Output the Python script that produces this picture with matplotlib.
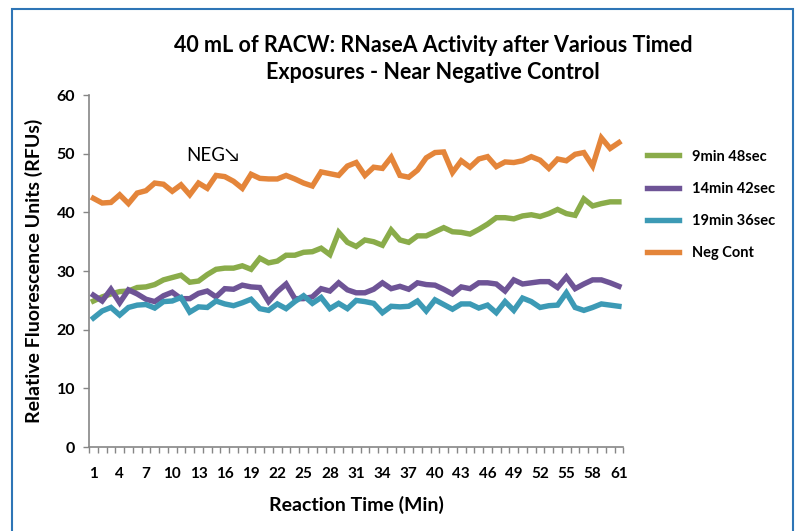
import numpy as np
import matplotlib.pyplot as plt
from matplotlib.patches import Rectangle

plt.rcParams['font.family'] = ['Lato', 'DejaVu Sans']

minutes = np.arange(1, 62)

min9_48 = [24.9, 25.6, 26.1, 26.5, 26.6, 27.2, 27.3, 27.7, 28.5, 28.9,
           29.3, 28.1, 28.3, 29.4, 30.3, 30.5, 30.5, 30.9, 30.3, 32.2,
           31.4, 31.7, 32.7, 32.7, 33.2, 33.3, 33.9, 32.8, 36.6, 34.9,
           34.2, 35.3, 35.0, 34.4, 37.0, 35.3, 34.9, 36.0, 36.0, 36.7,
           37.4, 36.7, 36.6, 36.3, 37.1, 38.0, 39.1, 39.1, 38.9, 39.4,
           39.6, 39.3, 39.8, 40.5, 39.8, 39.5, 42.3, 41.1, 41.5, 41.8, 41.8]

min14_42 = [25.9, 24.9, 26.9, 24.6, 26.8, 26.1, 25.2, 24.8, 25.8, 26.4,
            25.3, 25.3, 26.2, 26.6, 25.6, 27.0, 26.9, 27.6, 27.3, 27.2,
            24.8, 26.5, 27.8, 25.3, 25.3, 25.6, 27.0, 26.6, 28.0, 26.8,
            26.3, 26.3, 26.9, 28.0, 27.0, 27.4, 26.9, 28.0, 27.7, 27.6,
            26.9, 26.1, 27.3, 27.0, 28.0, 28.0, 27.8, 26.6, 28.5, 27.8,
            28.0, 28.2, 28.2, 27.2, 29.0, 27.0, 27.8, 28.5, 28.5, 28.0, 27.4]

min19_36 = [22.0, 23.2, 23.8, 22.5, 23.8, 24.2, 24.3, 23.7, 24.8, 24.9,
            25.5, 23.0, 23.9, 23.8, 24.9, 24.4, 24.1, 24.6, 25.2, 23.6,
            23.3, 24.4, 23.6, 24.8, 25.8, 24.5, 25.5, 23.6, 24.5, 23.6,
            25.0, 24.8, 24.5, 22.9, 24.0, 23.9, 24.0, 24.9, 23.2, 25.1,
            24.3, 23.5, 24.4, 24.4, 23.7, 24.2, 22.9, 24.8, 23.3, 25.4,
            24.8, 23.8, 24.1, 24.2, 26.3, 23.8, 23.3, 23.8, 24.4, 24.2, 24.0]

neg_cont = [42.4, 41.6, 41.7, 43.0, 41.5, 43.3, 43.7, 45.0, 44.8, 43.6,
            44.7, 43.0, 45.0, 44.1, 46.3, 46.1, 45.3, 44.1, 46.5, 45.8,
            45.7, 45.7, 46.3, 45.7, 45.0, 44.5, 46.9, 46.6, 46.3, 47.9,
            48.5, 46.3, 47.7, 47.5, 49.4, 46.3, 46.0, 47.2, 49.3, 50.2,
            50.3, 46.8, 48.8, 47.7, 49.1, 49.5, 47.8, 48.6, 48.5, 48.8,
            49.5, 48.9, 47.5, 49.1, 48.8, 49.9, 50.2, 47.9, 52.7, 50.9, 51.9]

series_names = ['9min 48sec', '14min 42sec', '19min 36sec', 'Neg Cont']
colors = ['#8aac4a', '#6e5496', '#3c9ab5', '#e4853a']

fig = plt.figure(figsize=(7.95, 5.31), dpi=100)
ax = fig.add_axes([0.112, 0.158, 0.672, 0.663])

for vals, name, c in zip([min9_48, min14_42, min19_36, neg_cont], series_names, colors):
    ax.plot(minutes, vals, color=c, lw=3.9, label=name, solid_joinstyle='miter')

ax.set_xlim(0.5, 61.5)
ax.set_ylim(0, 60)
ax.set_yticks(range(0, 61, 10))
ax.set_xticks(range(1, 62, 3))
ax.set_xticks(np.arange(0.5, 62, 1), minor=True)
ax.tick_params(axis='x', which='major', length=0, pad=14, labelsize=11)
ax.tick_params(axis='x', which='minor', length=4, width=1, color='#868686', direction='out')
ax.tick_params(axis='y', length=4, width=1, color='#868686', labelsize=11.5, pad=6)
for lab in ax.get_xticklabels() + ax.get_yticklabels():
    lab.set_fontweight('bold')

for s in ['top', 'right']:
    ax.spines[s].set_visible(False)
for s in ['left', 'bottom']:
    ax.spines[s].set_color('#868686')
    ax.spines[s].set_linewidth(1.2)

ax.set_xlabel('Reaction Time (Min)', fontsize=14, fontweight='bold', labelpad=11)
ax.set_ylabel('Relative Fluorescence Units (RFUs)', fontsize=14, fontweight='bold', labelpad=10)

fig.text(0.545, 0.889, '40 mL of RACW: RNaseA Activity after Various Timed\nExposures - Near Negative Control',
         ha='center', va='center', fontsize=15.5, fontweight='bold', linespacing=1.35)

ax.text(11.6, 49.7, 'NEG\u2198', fontsize=13.5, va='center', ha='left')

ax.legend(loc='upper left', bbox_to_anchor=(0.797, 0.743), bbox_transform=fig.transFigure,
          frameon=False, handlelength=2.2, handletextpad=0.9, labelspacing=1.25,
          prop={'weight': 'bold', 'size': 10.5})

fig.patches.append(Rectangle((12 / 795, -0.05), (793 - 12) / 795, 1 - 9 / 531 + 0.05,
                             transform=fig.transFigure, fill=False, edgecolor='#2e75b6', lw=1.5))

fig.savefig('out.png', dpi=100)
